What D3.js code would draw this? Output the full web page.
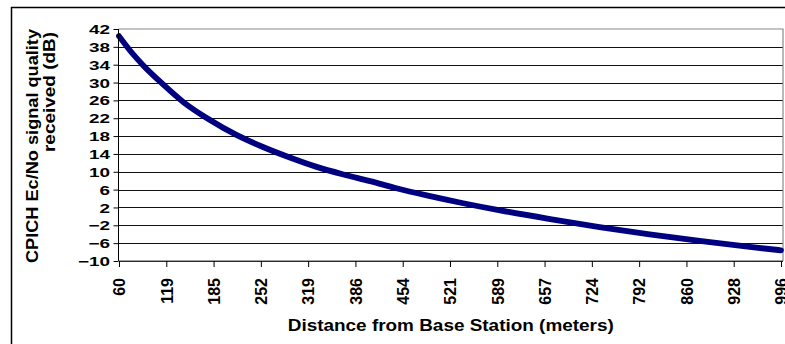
<!DOCTYPE html>
<html><head><meta charset="utf-8">
<script src="https://cdn.jsdelivr.net/npm/d3@7"></script>
<style>
body{margin:0;background:#fff}
svg{display:block}
text{font-family:"Liberation Sans",Arial,sans-serif;font-weight:bold;fill:#000}
</style>
</head><body>
<svg id="c" width="785" height="344"></svg>
<script>
// ---- data ----
const xTickLabels = [60,119,185,252,319,386,454,521,589,657,724,792,860,928,996];
const yTickLabels = [42,38,34,30,26,22,18,14,10,6,2,-2,-6,-10];
const distance = [60,75,90,115,143,180,218,255,293,331,369,407,445,488,540,593,665,735,807,879,951,996];
const quality  = [40.4,36.9,33.9,29.6,25.6,21.6,18.2,15.55,13.2,11.1,9.4,7.9,6.3,4.7,2.95,1.35,-0.6,-2.4,-4.05,-5.5,-6.85,-7.6];
const xTitle = "Distance from Base Station (meters)";
const yTitle = ["CPICH Ec/No signal quality", "received (dB)"];

// ---- layout ----
const plot = {left:118.5, right:783, top:29, bottom:261};
const svg = d3.select("#c");

// outer frame (extends beyond picture)
svg.append("rect").attr("x",11.5).attr("y",7.5).attr("width",900).attr("height",500)
  .attr("fill","none").attr("stroke","#000").attr("stroke-width",1.5);

// category-like axis: equally spaced tick labels
const firstX = 119, lastX = 781;
const x = d3.scaleLinear()
  .domain(xTickLabels)
  .range(xTickLabels.map((d,i)=> firstX + i*(lastX-firstX)/(xTickLabels.length-1)));
const y = d3.scaleLinear().domain([-10,42]).range([plot.bottom, plot.top]);

// gridlines
svg.append("g").attr("transform",`translate(${plot.left},0)`)
  .call(d3.axisLeft(y).tickValues(yTickLabels.filter(v=>v!==42)).tickSize(-(plot.right-plot.left)).tickFormat(""))
  .call(g=>g.select(".domain").remove())
  .call(g=>g.selectAll("line").attr("stroke","#111").attr("shape-rendering","crispEdges"));

// plot border top/right (gray)
svg.append("path")
  .attr("d",`M${plot.left},${y(42)}H${plot.right}V${plot.bottom}`)
  .attr("fill","none").attr("stroke","#8a8a8a").attr("stroke-width",1.2);

// curve
const line = d3.line().x((d,i)=>x(distance[i])).y(d=>y(d)).curve(d3.curveMonotoneX);
svg.append("path").datum(quality).attr("d",line)
  .attr("fill","none").attr("stroke","#000080").attr("stroke-width",5.8)
  .attr("stroke-linecap","round").attr("stroke-linejoin","round");

// y axis
const yAx = svg.append("g").attr("transform",`translate(${plot.left},0)`)
  .call(d3.axisLeft(y).tickValues(yTickLabels).tickSize(5).tickSizeOuter(0).tickFormat(d3.format("d")));
yAx.select(".domain").attr("stroke","#000").attr("d",`M0,${plot.top}V${plot.bottom}`);
yAx.selectAll(".tick line").attr("stroke","#000");
yAx.selectAll(".tick text").attr("x",null).attr("dy","0.36em")
  .attr("transform","translate(-8.5,0) scale(1.5,1)")
  .style("font-size","12.6px").attr("fill","#000");

// x axis
const xAx = svg.append("g").attr("transform",`translate(0,${plot.bottom})`)
  .call(d3.axisBottom(x).tickValues(xTickLabels).tickSize(6).tickSizeOuter(0).tickFormat(d3.format("d")));
xAx.select(".domain").attr("stroke","#444").attr("d",`M${plot.left},0H${plot.right}`);
xAx.selectAll(".tick line").attr("stroke","#000");
xAx.selectAll(".tick text").attr("y",null).attr("dy","0.36em")
  .attr("transform","translate(0,17) rotate(-90)")
  .attr("text-anchor","end")
  .style("font-size","16px").attr("fill","#000");
svg.selectAll("g").attr("font-family",null).attr("font-size",null);

// titles
svg.append("text").attr("x",(plot.left+plot.right)/2).attr("y",331)
  .attr("text-anchor","middle").style("font-size","16px")
  .attr("textLength",326).attr("lengthAdjust","spacingAndGlyphs").text(xTitle);

svg.append("text").attr("transform","translate(38.3,29) rotate(-90)")
  .attr("text-anchor","end").style("font-size","16px")
  .attr("textLength",234).attr("lengthAdjust","spacingAndGlyphs").text(yTitle[0]);
svg.append("text").attr("transform","translate(55,32) rotate(-90)")
  .attr("text-anchor","end").style("font-size","16px")
  .attr("textLength",120).attr("lengthAdjust","spacingAndGlyphs").text(yTitle[1]);
</script>
</body></html>
